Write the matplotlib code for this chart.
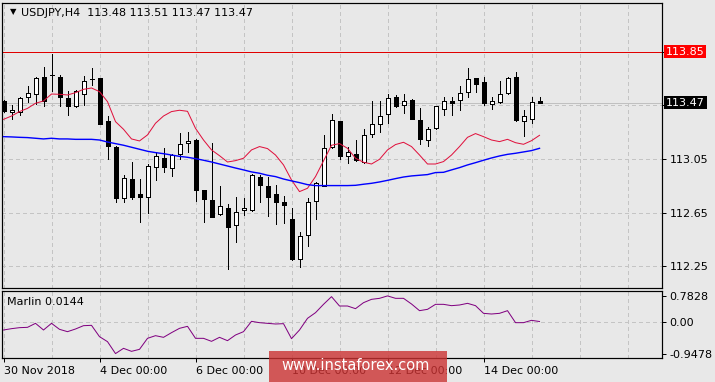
import matplotlib

matplotlib.use("Agg")

import matplotlib.pyplot as plt
from matplotlib.patches import Rectangle
import numpy as np


W, H = 715, 382
BG = "#e8e8e8"
PX = 0.72  # one pixel in points at dpi=100

TITLE = "USDJPY,H4  113.48 113.51 113.47 113.47"
OSC_TITLE = "Marlin 0.0144"
WATERMARK = "www.instaforex.com"

# H4 candles, 30 Nov 2018 00:00 onward
opens = [113.482, 113.398, 113.400, 113.509, 113.532, 113.659, 113.676, 113.659, 113.502, 113.442,
         113.537, 113.644, 113.651, 113.333, 113.139, 112.756, 112.900, 112.789, 112.764, 112.987,
         113.057, 112.980, 113.084, 113.166, 113.191, 112.818, 112.741, 112.637, 112.682, 112.555,
         112.667, 112.669, 112.918, 112.848, 112.789, 112.729, 112.602, 112.306, 112.480, 112.734,
         112.851, 113.137, 113.333, 113.069, 113.084, 113.025, 113.239, 113.313, 113.383, 113.509,
         113.450, 113.487, 113.340, 113.191, 113.278, 113.425, 113.482, 113.487, 113.552, 113.654,
         113.624, 113.460, 113.472, 113.539, 113.661, 113.330, 113.350, 113.48]
highs = [113.490, 113.450, 113.509, 113.594, 113.664, 113.736, 113.833, 113.674, 113.557, 113.564,
         113.671, 113.728, 113.656, 113.368, 113.147, 112.930, 113.027, 112.900, 113.012, 113.102,
         113.132, 113.087, 113.244, 113.251, 113.196, 112.820, 113.166, 112.848, 112.712, 112.769,
         112.759, 112.935, 112.930, 112.918, 112.856, 112.774, 112.684, 112.505, 112.756, 112.876,
         113.229, 113.385, 113.335, 113.137, 113.191, 113.276, 113.482, 113.482, 113.534, 113.527,
         113.534, 113.497, 113.427, 113.286, 113.445, 113.509, 113.514, 113.594, 113.728, 113.654,
         113.661, 113.509, 113.631, 113.661, 113.698, 113.418, 113.512, 113.51]
lows = [113.400, 113.350, 113.380, 113.475, 113.457, 113.447, 113.559, 113.447, 113.380, 113.440,
        113.455, 113.599, 113.308, 113.050, 112.731, 112.731, 112.754, 112.582, 112.647, 112.896,
        112.955, 112.925, 113.052, 113.102, 112.739, 112.582, 112.617, 112.635, 112.227, 112.428,
        112.635, 112.664, 112.731, 112.625, 112.562, 112.570, 112.299, 112.242, 112.401, 112.600,
        112.848, 113.134, 113.052, 113.017, 113.037, 113.022, 113.216, 113.253, 113.316, 113.440,
        113.395, 113.348, 113.164, 113.149, 113.271, 113.380, 113.380, 113.415, 113.509, 113.552,
        113.452, 113.425, 113.470, 113.537, 113.330, 113.224, 113.316, 113.47]
closes = [113.408, 113.415, 113.502, 113.539, 113.651, 113.480, 113.674, 113.509, 113.447, 113.554,
          113.629, 113.646, 113.313, 113.149, 112.761, 112.908, 112.769, 112.769, 112.995, 113.072,
          112.987, 113.077, 113.159, 113.184, 112.821, 112.754, 112.620, 112.699, 112.540, 112.652,
          112.682, 112.930, 112.853, 112.769, 112.731, 112.709, 112.301, 112.473, 112.726, 112.868,
          113.129, 113.338, 113.074, 113.099, 113.040, 113.226, 113.308, 113.368, 113.502, 113.442,
          113.480, 113.350, 113.196, 113.271, 113.442, 113.480, 113.470, 113.539, 113.644, 113.611,
          113.470, 113.480, 113.534, 113.651, 113.338, 113.368, 113.475, 113.47]

ma_fast = [113.345, 113.370, 113.403, 113.427, 113.465, 113.482, 113.534, 113.532, 113.527, 113.544,
           113.569, 113.579, 113.552, 113.477, 113.328, 113.271, 113.199, 113.184, 113.229, 113.316,
           113.370, 113.403, 113.413, 113.405, 113.278, 113.191, 113.117, 113.074, 113.027, 113.037,
           113.055, 113.117, 113.142, 113.127, 113.079, 113.005, 112.893, 112.806, 112.831, 112.918,
           113.035, 113.152, 113.164, 113.129, 113.055, 113.025, 113.012, 113.047, 113.117, 113.157,
           113.174, 113.142, 113.079, 113.012, 113.012, 113.030, 113.079, 113.142, 113.211, 113.239,
           113.216, 113.191, 113.179, 113.196, 113.171, 113.159, 113.186, 113.226]
ma_slow = [113.216, 113.214, 113.211, 113.209, 113.204, 113.199, 113.204, 113.199, 113.199, 113.196,
           113.196, 113.196, 113.191, 113.176, 113.164, 113.152, 113.137, 113.122, 113.107, 113.097,
           113.089, 113.079, 113.069, 113.062, 113.052, 113.040, 113.027, 113.012, 112.997, 112.982,
           112.968, 112.953, 112.943, 112.928, 112.918, 112.900, 112.886, 112.873, 112.858, 112.851,
           112.851, 112.851, 112.851, 112.851, 112.853, 112.861, 112.868, 112.878, 112.890, 112.903,
           112.915, 112.923, 112.928, 112.933, 112.948, 112.950, 112.968, 112.985, 113.005, 113.022,
           113.040, 113.057, 113.072, 113.084, 113.092, 113.102, 113.112, 113.129]

marlin = [-0.24, -0.20, -0.17, -0.16, -0.04, -0.24, -0.04, -0.22, -0.29, -0.21,
          -0.11, -0.10, -0.44, -0.59, -0.9478, -0.79, -0.88, -0.82, -0.49, -0.41,
          -0.46, -0.32, -0.19, -0.13, -0.49, -0.49, -0.58, -0.46, -0.56, -0.39,
          -0.29, 0.02, -0.02, -0.04, -0.06, -0.05, -0.50, -0.24, 0.11, 0.28,
          0.53, 0.76, 0.48, 0.48, 0.40, 0.58, 0.68, 0.71, 0.7828, 0.71,
          0.71, 0.54, 0.34, 0.38, 0.53, 0.53, 0.49, 0.51, 0.56, 0.49,
          0.26, 0.24, 0.26, 0.34, -0.02, -0.02, 0.05, 0.0144]

x_labels = ["30 Nov 2018", "4 Dec 00:00", "6 Dec 00:00", "10 Dec 00:00", "12 Dec 00:00", "14 Dec 00:00"]
x_label_pos = [0, 12, 24, 36, 48, 60]
price_ticks = [112.25, 112.65, 113.05, 113.45, 113.85]
level_price = 113.85
last_price = 113.47
osc_ticks = [0.7828, 0.0, -0.9478]
osc_tick_labels = ["0.7828", "0.00", "-0.9478"]


def px_rect(x0, y0, x1, y1):
    return [x0 / W, 1 - y1 / H, (x1 - x0) / W, (y1 - y0) / H]


def style_axes(ax):
    ax.set_facecolor(BG)
    for sp in ax.spines.values():
        sp.set_color("black")
        sp.set_linewidth(1.2 * PX)


def draw_grid(ax, hlines):
    for xg in range(0, 84, 6):
        ax.axvline(xg, color="#c4c4c4", lw=PX, ls=(0, (3, 3)), zorder=1, antialiased=False)
    for yg in hlines:
        ax.axhline(yg, color="#c4c4c4", lw=PX, ls=(0, (3, 3)), zorder=1, antialiased=False)


def main():
    fig = plt.figure(figsize=(W / 100, H / 100), dpi=100, facecolor=BG)
    ax = fig.add_axes(px_rect(2, 3, 662, 288))
    sub = fig.add_axes(px_rect(2, 291, 662, 358), sharex=ax)
    style_axes(ax)
    style_axes(sub)

    idx = np.arange(len(opens))
    o, h, l, c = (np.array(v) for v in (opens, highs, lows, closes))
    up = c >= o

    draw_grid(ax, price_ticks)
    ax.axhline(last_price, color="#c0c0c0", lw=PX, zorder=1.5, antialiased=False)
    ax.axhline(level_price, color="#e00000", lw=PX, zorder=1.5, antialiased=False)

    ax.vlines(idx, l, h, color="black", lw=PX, zorder=3, antialiased=False)
    lo = np.minimum(o, c)
    hgt = np.maximum(np.abs(c - o), 0.0005)
    ax.bar(idx[up], hgt[up], bottom=lo[up], width=0.5, color="white",
           edgecolor="black", linewidth=PX, zorder=4, antialiased=False)
    ax.bar(idx[~up], hgt[~up], bottom=lo[~up], width=0.5, color="black",
           edgecolor="black", linewidth=PX, zorder=4, antialiased=False)

    ax.plot(idx, ma_fast, color="#e0103c", lw=PX, zorder=5)
    ax.plot(idx, ma_slow, color="#0000ff", lw=1.4 * PX, zorder=5)

    ax.set_xlim(-0.1875, 82.31)
    ax.set_ylim(112.087, 114.213)
    ax.yaxis.tick_right()
    ax.set_yticks(price_ticks)
    # the two upper labels sit under the price boxes in the reference
    hidden = (level_price - 0.02, last_price - 0.02)
    ax.set_yticklabels(["" if any(abs(p - q) < 0.05 for q in hidden) else f"{p:.2f}"
                        for p in price_ticks])
    ax.tick_params(axis="y", direction="out", length=3, width=PX, pad=2.5,
                   labelsize=8, colors="black")
    ax.tick_params(axis="x", length=0, labelbottom=False)

    box_tf = ax.get_yaxis_transform()
    ax.text(1.006, level_price, f"{level_price:.2f}", transform=box_tf, color="white",
            ha="left", va="center", fontsize=8, clip_on=False, zorder=10,
            bbox=dict(boxstyle="square,pad=0.15", fc="#ff0000", ec="none"))
    ax.text(1.006, last_price, f"{last_price:.2f}", transform=box_tf, color="white",
            ha="left", va="center", fontsize=8, clip_on=False, zorder=10,
            bbox=dict(boxstyle="square,pad=0.15", fc="#000000", ec="none"))

    # oscillator panel
    draw_grid(sub, [0.0])
    sub.plot(idx, marlin, color="#800080", lw=PX, zorder=5)
    sub.set_ylim(-1.08, 0.93)
    sub.yaxis.tick_right()
    sub.set_yticks(osc_ticks)
    sub.set_yticklabels(osc_tick_labels)
    sub.tick_params(axis="y", direction="out", length=3, width=PX, pad=2.5,
                    labelsize=8, colors="black")
    sub.set_xticks(x_label_pos)
    sub.set_xticklabels(x_labels)
    sub.tick_params(axis="x", direction="out", length=3, width=PX, pad=2.5,
                    labelsize=8, colors="black")
    for lbl in sub.get_xticklabels():
        lbl.set_ha("left")

    fig.text(10 / W, 1 - 12 / H, "\u25bc", fontsize=6, ha="left", va="center", color="black")
    fig.text(21 / W, 1 - 13 / H, TITLE, fontsize=8, ha="left", va="center", color="black")
    fig.text(7 / W, 1 - 302 / H, OSC_TITLE, fontsize=8, ha="left", va="center", color="black")

    fig.patches.append(Rectangle((269 / W, 0), 178 / W, 31 / H, transform=fig.transFigure,
                                 fc=(0.80, 0.20, 0.20), alpha=0.8, ec="none", zorder=20))
    fig.text(356 / W, 1 - 366 / H, WATERMARK, fontsize=10.5, ha="center", va="center",
             color="white", zorder=21)

    fig.savefig("out.png", dpi=100, facecolor=BG)
    plt.close(fig)


if __name__ == "__main__":
    main()
